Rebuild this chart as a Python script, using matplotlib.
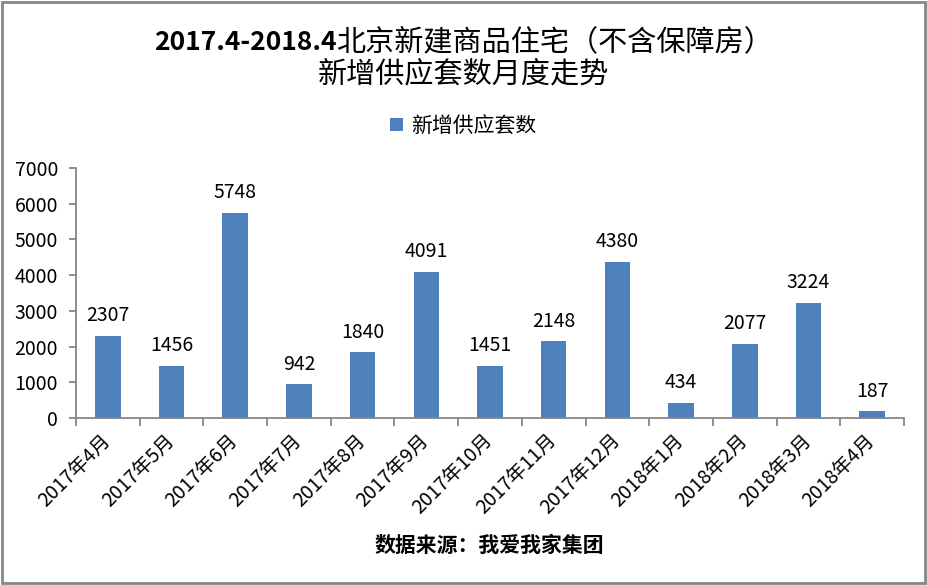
import numpy as np
import matplotlib
matplotlib.use('Agg')
import matplotlib.pyplot as plt
from matplotlib.patches import Rectangle

plt.rcParams['font.family'] = ['Noto Sans CJK SC', 'DejaVu Sans']

# Data
months = ['2017年4月', '2017年5月', '2017年6月', '2017年7月', '2017年8月', '2017年9月',
          '2017年10月', '2017年11月', '2017年12月', '2018年1月', '2018年2月', '2018年3月',
          '2018年4月']
supply = [2307, 1456, 5748, 942, 1840, 4091, 1451, 2148, 4380, 434, 2077, 3224, 187]
series_name = '新增供应套数'
title_num = '2017.4-2018.4'
title_rest = '北京新建商品住宅（不含保障房）'
title_line2 = '新增供应套数月度走势'
source = '数据来源：我爱我家集团'

bar_color = '#4F81BD'
axis_color = '#868686'

fig = plt.figure(figsize=(9.27, 5.85), dpi=100)
ax = fig.add_axes([76 / 927, 1 - 418 / 585, (904 - 76) / 927, 250 / 585])

x = np.arange(len(months))
bars = ax.bar(x, supply, width=0.4, color=bar_color, label=series_name, zorder=2)

for xi, v in zip(x, supply):
    ax.annotate(str(v), (xi, v), xytext=(0, 7), textcoords='offset points',
                ha='center', va='bottom', fontsize=14)

ax.set_xlim(-0.5, len(months) - 0.5)
ax.set_ylim(0, 7000)
ax.set_yticks(np.arange(0, 7001, 1000))
ax.tick_params(axis='y', labelsize=14, color=axis_color, length=5, width=1.3, pad=8)

# category labels at centres, tick marks at boundaries
ax.set_xticks(x)
ax.set_xticklabels(months, rotation=45, ha='right', va='center',
                   rotation_mode='anchor', fontsize=14)
ax.tick_params(axis='x', which='major', length=0, pad=14)
ax.set_xticks(np.arange(-0.5, len(months), 1), minor=True)
ax.tick_params(axis='x', which='minor', length=6, width=1.3, color=axis_color)

for s in ['top', 'right']:
    ax.spines[s].set_visible(False)
for s in ['left', 'bottom']:
    ax.spines[s].set_color(axis_color)
    ax.spines[s].set_linewidth(1.3)

fig.legend(loc='center', bbox_to_anchor=(0.5, 1 - 126 / 585), frameon=False,
           fontsize=15, handlelength=0.6, handleheight=0.6, handletextpad=0.4)

# title: bold numbers followed by the Chinese text, centred together
y1 = 1 - 50 / 585
t1 = fig.text(0, y1, title_num, fontsize=19, fontweight='bold', va='baseline')
t2 = fig.text(0, y1, title_rest, fontsize=21, va='baseline')
fig.canvas.draw()
r = fig.canvas.get_renderer()
w1 = t1.get_window_extent(r).width
w2 = t2.get_window_extent(r).width
W = fig.bbox.width
x0 = (W - (w1 + w2)) / 2
t1.set_x(x0 / W)
t2.set_x((x0 + w1) / W)

fig.text(0.5, 1 - 82 / 585, title_line2, fontsize=21,
         ha='center', va='baseline')

fig.text(489 / 927, 1 - 545 / 585, source, fontsize=15, fontweight='bold',
         ha='center', va='center')

fig.patches.append(Rectangle((0.002, 0.003), 0.996, 0.994, transform=fig.transFigure,
                             fill=False, edgecolor=axis_color, linewidth=2))

fig.savefig('out.png', dpi=100)
